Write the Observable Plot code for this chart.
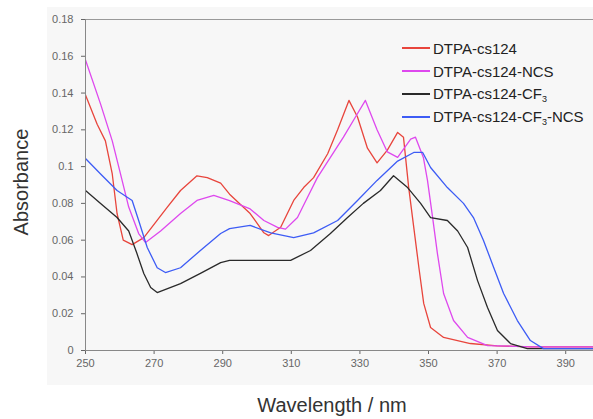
<!DOCTYPE html>
<html>
<head>
<meta charset="utf-8">
<script src="https://cdn.jsdelivr.net/npm/d3@7"></script>
<script src="https://cdn.jsdelivr.net/npm/@observablehq/plot@0.6"></script>
<style>
  body { margin: 0; background: #fff; font-family: "Liberation Sans", Arial, sans-serif; }
  #wrap { position: relative; width: 593px; height: 419px; overflow: hidden; }
  #bg { position: absolute; left: 47px; top: 7px; width: 546px; height: 378px; background: #f7f7f7; }
  #chart { position: absolute; left: 0; top: 0; }
  .axlab { position: absolute; color: #333; font-size: 20px; white-space: nowrap; }
  #ylab { left: 21px; top: 182px; transform: translate(-50%, -50%) rotate(-90deg); }
  #xlab { left: 332px; top: 405px; transform: translate(-50%, -50%); }
  #legend { position: absolute; left: 402px; top: 37px; font-size: 15px; color: #222; }
  .row { display: flex; align-items: center; height: 22.8px; }
  .sw { width: 28px; height: 2px; margin-right: 3px; }
  sub { font-size: 9px; vertical-align: -3px; line-height: 0; }
</style>
</head>
<body>
<div id="wrap">
  <div id="bg"></div>
  <div id="chart"></div>
  <div class="axlab" id="ylab">Absorbance</div>
  <div class="axlab" id="xlab">Wavelength / nm</div>
  <div id="legend"></div>
</div>
<script>
const seriesNames = ["DTPA-cs124", "DTPA-cs124-NCS", "DTPA-cs124-CF3", "DTPA-cs124-CF3-NCS"];
const seriesLabelsHtml = ["DTPA-cs124", "DTPA-cs124-NCS", "DTPA-cs124-CF<sub>3</sub>", "DTPA-cs124-CF<sub>3</sub>-NCS"];
const seriesColors = ["#e8453c", "#de48ee", "#2a2a2a", "#3d5cf5"];

const redWl  = [250,253.4,255.8,257.8,259.2,261,263.6,267,273.8,277.7,282.5,285.5,289.4,292,298,302,303.4,306.9,310.7,313.6,316.5,320.6,323.5,326.8,329.3,332.2,335,338,341,342.7,344.2,345.7,347.2,348.6,350.6,354.4,362.2,370,380,390,400];
const redAbs = [0.139,0.123,0.114,0.096,0.0745,0.060,0.0576,0.0614,0.0778,0.087,0.095,0.094,0.091,0.085,0.0745,0.064,0.0625,0.067,0.0816,0.0886,0.094,0.107,0.120,0.136,0.127,0.110,0.102,0.109,0.1186,0.116,0.089,0.067,0.045,0.0256,0.0125,0.0071,0.0038,0.0025,0.002,0.002,0.002];

const magWl  = [250,254.4,257.8,260.2,262.6,265.5,267.5,271.9,277.7,282.5,287.4,292,298,302,306,308.3,311.8,314.7,317.6,321.4,325.2,328.7,331.6,335,338,341,344.8,346.2,348.5,349.7,351.2,352.6,354.4,357.3,361.4,367.2,380,400];
const magAbs = [0.158,0.134,0.114,0.096,0.078,0.0636,0.0587,0.065,0.0745,0.0816,0.0843,0.0815,0.077,0.0707,0.067,0.066,0.0723,0.0832,0.094,0.105,0.116,0.127,0.136,0.120,0.108,0.105,0.115,0.116,0.105,0.0925,0.0723,0.0527,0.031,0.0163,0.0071,0.0027,0.002,0.002];

const blkWl  = [250,254.4,259.2,262.6,265,267,269,270.9,277.7,283.5,289.4,292,302,309.8,315.6,321.4,326.4,331,336,339.8,343.9,347.7,350.6,355.5,358.5,361.4,364.3,367.2,370.1,373.9,378.8,390,400];
const blkAbs = [0.087,0.080,0.0723,0.065,0.0527,0.0419,0.0343,0.0315,0.0364,0.0419,0.0478,0.049,0.049,0.049,0.0544,0.0636,0.0723,0.080,0.087,0.095,0.0886,0.080,0.0723,0.0707,0.065,0.056,0.038,0.0234,0.0109,0.0038,0.001,0.001,0.001];

const bluWl  = [250,254.4,259.2,263.6,265.5,268,270.9,273.3,277.7,283.5,289.4,292,298,304,310.7,316.5,323.5,329.3,335,341,345.7,348.3,350.6,355.5,360.2,363.1,366,369,371.9,375.9,379.7,383.5,400];
const bluAbs = [0.1044,0.096,0.087,0.0816,0.0707,0.056,0.045,0.0424,0.045,0.0544,0.0636,0.0663,0.068,0.064,0.0614,0.064,0.0707,0.0816,0.0925,0.103,0.1077,0.1077,0.0995,0.0886,0.080,0.0723,0.060,0.0451,0.031,0.0163,0.0054,0.001,0.001];

const xTicks = [250,270,290,310,330,350,370,390];
const yTicks = [0,0.02,0.04,0.06,0.08,0.1,0.12,0.14,0.16,0.18];

const wls = [redWl, magWl, blkWl, bluWl];
const abss = [redAbs, magAbs, blkAbs, bluAbs];
const rows = [];
seriesNames.forEach((s, i) => wls[i].forEach((w, j) => rows.push({series: s, wl: w, abs: abss[i][j]})));

const plot = Plot.plot({
  width: 593,
  height: 419,
  marginLeft: 85,
  marginRight: 0,
  marginTop: 19,
  marginBottom: 69,
  style: {background: "transparent", color: "#666", fontSize: "11px", fontFamily: "'Liberation Sans', Arial, sans-serif"},
  x: {domain: [250, 398.1], ticks: xTicks, tickSize: 4, tickPadding: 5, label: null},
  y: {domain: [0, 0.18], ticks: yTicks, tickSize: 4, tickPadding: 8, label: null,
      tickFormat: d => String(+d.toFixed(2))},
  color: {domain: seriesNames, range: seriesColors},
  marks: [
    Plot.ruleY([0.18], {stroke: "#999"}),
    Plot.line(rows, {x: "wl", y: "abs", z: "series", stroke: "series", strokeWidth: 1.3, curve: "linear", clip: true}),
    Plot.ruleY([0], {stroke: "#888"}),
    Plot.ruleX([250], {stroke: "#888"})
  ]
});
document.getElementById("chart").appendChild(plot);

const legend = document.getElementById("legend");
seriesNames.forEach((s, i) => {
  const row = document.createElement("div");
  row.className = "row";
  row.innerHTML = `<div class="sw" style="background:${seriesColors[i]}"></div><span>${seriesLabelsHtml[i]}</span>`;
  legend.appendChild(row);
});
</script>
</body>
</html>
